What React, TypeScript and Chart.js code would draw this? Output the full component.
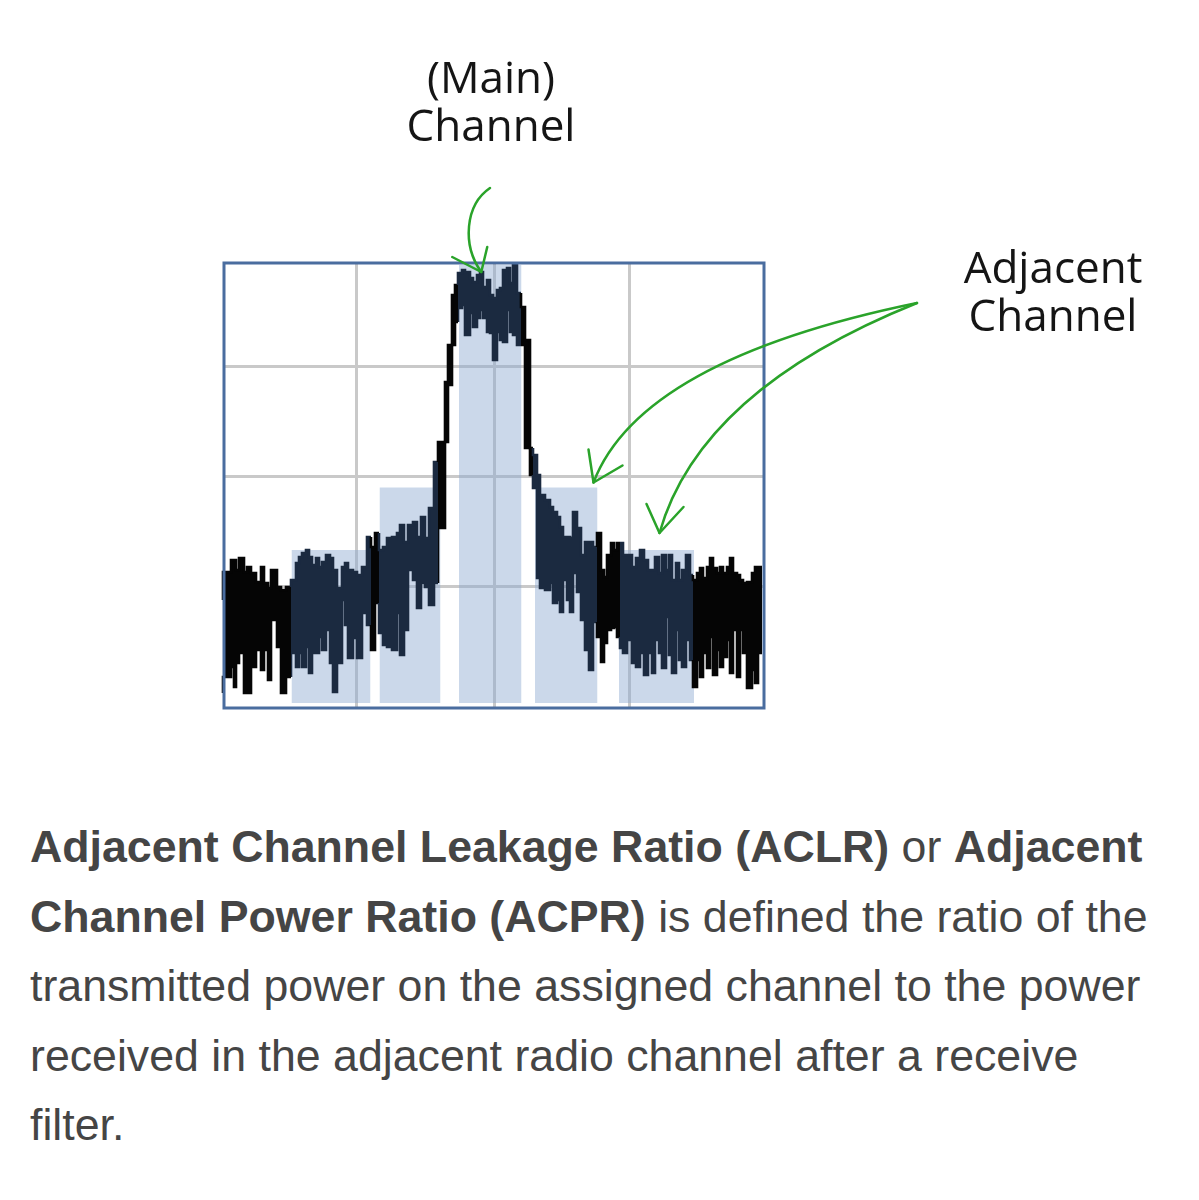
import React, { useEffect, useRef } from "react";
import { Chart, registerables } from "chart.js";

Chart.register(...registerables);

// Frequency offset from the carrier (arbitrary units) for each trace sample
const freqOffsets = [
  -55, -54.2, -52.6, -52, -51.6, -51, -50, -49.4, -48.6, -47.6, -46.6, -46, -45.2, -44.6, -43.4, -42.6, -41.6,
  -40.6, -39.6, -39, -38.4, -37.6, -37, -36.4, -35.6, -35, -34.4, -33.6, -32.8, -32.2, -31.4, -30.4, -29.8,
  -29.2, -28.2, -27.4, -26.4, -25.4, -24.6, -23.8, -23, -22.2, -21.4, -20.4, -19.4, -18.8, -18, -17.2, -16.2,
  -15.4, -14.6, -13.8, -13, -12, -11.2, -9.8, -9.2, -8.4, -7.8, -7.2, -6.4, -5.8, -4.8, -4.2, -3.4, -2.8,
  -2.2, -1.4, -0.8, -0.2, 0.6, 1.2, 1.8, 2.6, 3.2, 3.8, 4.6, 5.4, 6.2, 7.2, 7.8, 8.6, 9.2, 10.2, 11.2, 11.8,
  12.6, 13.2, 13.8, 14.6, 15.2, 15.8, 16.6, 17.4, 18.2, 19, 19.8, 20.6, 21.4, 22, 22.6, 23.4, 24, 24.6, 25.2,
  25.8, 26.6, 27.6, 28.4, 29.2, 30, 30.8, 31.6, 32.2, 33, 33.6, 34.4, 35, 35.6, 36.4, 37, 37.6, 38.4, 39.2,
  39.8, 40.6, 41.2, 41.8, 42.6, 43.2, 43.8, 44.6, 45.2, 45.8, 46.6, 47.2, 47.8, 48.6, 49.2, 49.8, 50.6, 51.6,
  52.2, 52.8, 53.6,
];

// Upper envelope of the noisy spectrum trace (dB, relative)
const traceUpper = [
  -64, -67.4, -61.8, -59.4, -59.4, -61.4, -59, -61.8, -60.8, -62, -63.8, -60.8, -64, -65, -61.4, -64.8, -65.4,
  -64.8, -63.4, -60, -58.8, -58, -57.4, -58.8, -60.4, -59, -60.8, -59.8, -58.4, -59, -61.4, -65, -60.8,
  -60, -61.4, -61.8, -62.4, -60.8, -54.8, -56.8, -54, -57.4, -56.8, -55, -54.8, -54, -52.4, -55.8, -52.4,
  -51.8, -54.8, -50.8, -55, -49, -39.8, -35.8, -23.8, -16.4, -6.4, -4.4, -2, -1.4, -1.8, -3, -3.8, -2.4,
  -1.8, -4.8, -3.4, -6.4, -7, -5.4, -5, -1.4, -1, -4, -0.4, -6, -8.8, -15.4, -37, -38.4, -42.4, -46.4, -47.4, -48.8,
  -49.8, -50.8, -52.8, -54.8, -54.8, -55, -49.8, -53, -58.4, -55.8, -55.8, -56.8, -54, -61.4, -62.8, -58.4, -56, -57.4, -56,
  -56, -58.4, -58.4, -60.8, -59, -57.4, -59.4, -61.4, -61.4, -58.8, -62, -58.4, -61.4, -58.4, -63.4, -60, -63.4, -61.4, -58.4,
  -62.4, -63.4, -62, -61, -63, -60.8, -59, -61, -62, -60.8, -62, -60.8, -59, -62, -62.4, -63.4, -64, -63.8,
  -62, -60.8, -60.8,
];

// Lower envelope of the noisy spectrum trace (dB, relative)
const traceLower = [
  -78.8, -86, -82.8, -80.8, -84.8, -80, -78, -86, -86, -80.8, -77.4, -81.4, -77.4, -83.4, -71.4, -76.8, -86,
  -82.8, -78, -80.8, -78, -80.8, -76.8, -82, -78, -78, -74.8, -77.4, -73.4, -80, -85.8, -80, -67.4,
  -72.4, -79, -75, -79, -70, -72.4, -77.4, -68, -74, -76.4, -76.8, -77.4, -70, -78.4, -73.4, -61.4,
  -63.4, -69, -64, -64.8, -68.4, -64, -53, -35.8, -24.4, -16.4, -11.8, -9, -8.4, -14.4, -10, -12.8, -11,
  -9.4, -11, -13.8, -14, -19.4, -13.8, -15.4, -15.8, -9.4, -13.8, -14.4, -16.4, -16.4, -37, -42.4, -45, -63, -65, -65.4, -64,
  -68, -67.4, -69.8, -63.4, -67.4, -69.8, -62, -65.8, -71.4, -77.4, -81.4, -71.8, -74.8, -79.8, -76, -73.4, -73, -72.8, -74.8,
  -77, -78, -75.4, -80, -80.8, -78, -82.4, -78, -82, -75.4, -78, -81, -70.8, -78.4, -82, -73.4, -79.4, -80.8, -75.4,
  -79.4, -84.8, -79.4, -82.8, -78, -81, -74.8, -82.4, -77.4, -80.8, -78.8, -75.4, -82, -73.4, -82.8, -73.4, -78, -85,
  -81.4, -84, -78,
];

// Measurement channels (shaded bands): lower alternate, lower adjacent, main, upper adjacent, upper alternate
const channelNames = ["Lower alternate", "Lower adjacent", "Main", "Upper adjacent", "Upper alternate"];
const channelStart = [-40.5, -22.9, -7, 8.2, 25];
const channelEnd = [-24.7, -10.7, 5.5, 20.7, 40];
const channelLevel = [-57.4, -44.9, -0.4, -44.9, -57.4];
const channelFloor = -88;

// Axis ranges and grid positions
const xRange = [-54, 54];
const yRange = [-89, 0];
const xGridTicks = [-27.5, 0, 27];
const yGridTicks = [-20.7, -42.7, -64.6];

const NAVY = "#1b2a40";
const BLACK = "#050505";
const BAND = "rgba(140,168,208,0.45)";
const GRID = "#c9c9c9";
const FRAME = "#4a6d9f";
const GREEN = "#2aa32a";

const inChannel = (x: number) => channelStart.some((s, i) => x >= s && x <= channelEnd[i]);

const decorPlugin = {
  id: "decor",
  afterDatasetsDraw(chart: any) {
    const { ctx, chartArea: a } = chart;
    ctx.save();
    ctx.strokeStyle = FRAME;
    ctx.lineWidth = 3;
    ctx.strokeRect(a.left, a.top, a.right - a.left, a.bottom - a.top);
    ctx.restore();
  },
  afterDraw(chart: any) {
    const { ctx } = chart;
    const xs = chart.scales.x;
    const ys = chart.scales.y;
    ctx.save();
    ctx.strokeStyle = GREEN;
    ctx.lineWidth = 2.5;
    ctx.lineCap = "round";
    ctx.lineJoin = "round";

    // Main channel arrow
    const mainTip = {
      x: xs.getPixelForValue((channelStart[2] + channelEnd[2]) / 2) - 9,
      y: ys.getPixelForValue(channelLevel[2]) + 7,
    };
    ctx.beginPath();
    ctx.moveTo(490, 188);
    ctx.bezierCurveTo(465, 205, 462, 245, mainTip.x, mainTip.y);
    ctx.stroke();
    ctx.beginPath();
    ctx.moveTo(mainTip.x - 29, mainTip.y - 15);
    ctx.lineTo(mainTip.x, mainTip.y);
    ctx.lineTo(mainTip.x + 6, mainTip.y - 25);
    ctx.stroke();

    // Adjacent channel arrows
    const adjTip = {
      x: xs.getPixelForValue(channelEnd[3]) - 4,
      y: ys.getPixelForValue(channelLevel[3]) - 5,
    };
    ctx.beginPath();
    ctx.moveTo(917, 303);
    ctx.quadraticCurveTo(640, 360, adjTip.x, adjTip.y);
    ctx.stroke();
    ctx.beginPath();
    ctx.moveTo(adjTip.x - 5, adjTip.y - 33);
    ctx.lineTo(adjTip.x, adjTip.y);
    ctx.lineTo(adjTip.x + 29, adjTip.y - 17);
    ctx.stroke();

    const altTip = {
      x: xs.getPixelForValue((channelStart[4] + channelEnd[4]) / 2) + 3,
      y: ys.getPixelForValue(channelLevel[4]) - 17,
    };
    ctx.beginPath();
    ctx.moveTo(917, 303);
    ctx.quadraticCurveTo(700, 390, altTip.x, altTip.y);
    ctx.stroke();
    ctx.beginPath();
    ctx.moveTo(altTip.x - 13, altTip.y - 29);
    ctx.lineTo(altTip.x, altTip.y);
    ctx.lineTo(altTip.x + 24, altTip.y - 26);
    ctx.stroke();
    ctx.restore();
  },
};

const CANVAS_W = 1199;
const CANVAS_H = 760;

export default function App() {
  const ref = useRef<HTMLCanvasElement | null>(null);

  useEffect(() => {
    if (!ref.current) return;
    const segColor = (c: any) => (inChannel((c.p0.parsed.x + c.p1.parsed.x) / 2) ? NAVY : BLACK);

    const channelSets = channelNames.map((name, i) => ({
      label: name,
      data: [
        { x: channelStart[i], y: channelFloor },
        { x: channelStart[i], y: channelLevel[i] },
        { x: channelEnd[i], y: channelLevel[i] },
        { x: channelEnd[i], y: channelFloor },
      ],
      borderColor: "transparent",
      borderWidth: 0,
      backgroundColor: BAND,
      fill: { value: channelFloor },
      pointRadius: 0,
      order: 5,
    }));

    const chart = new Chart(ref.current, {
      type: "line",
      data: {
        datasets: [
          {
            label: "Trace upper",
            data: freqOffsets.map((x, i) => ({ x, y: traceUpper[i] })),
            stepped: "after",
            borderColor: BLACK,
            backgroundColor: BLACK,
            borderWidth: 2.6,
            pointRadius: 0,
            fill: "+1",
            clip: false,
            order: 1,
            segment: { borderColor: segColor, backgroundColor: segColor },
          },
          {
            label: "Trace lower",
            data: freqOffsets.map((x, i) => ({ x, y: traceLower[i] })),
            stepped: "after",
            borderColor: BLACK,
            backgroundColor: BLACK,
            borderWidth: 2.6,
            pointRadius: 0,
            fill: false,
            clip: false,
            order: 2,
            segment: { borderColor: segColor, backgroundColor: segColor },
          },
          ...channelSets,
        ] as any,
      },
      options: {
        responsive: false,
        animation: false,
        devicePixelRatio: 1,
        events: [],
        layout: { padding: { left: 224, top: 263, right: CANVAS_W - 764, bottom: CANVAS_H - 708 } },
        plugins: { legend: { display: false }, tooltip: { enabled: false } },
        scales: {
          x: {
            type: "linear",
            min: xRange[0],
            max: xRange[1],
            ticks: { display: false },
            grid: { color: GRID, lineWidth: 3, drawTicks: false },
            border: { display: false },
            afterBuildTicks: (s: any) => {
              s.ticks = xGridTicks.map((v) => ({ value: v }));
            },
          },
          y: {
            type: "linear",
            min: yRange[0],
            max: yRange[1],
            ticks: { display: false },
            grid: { color: GRID, lineWidth: 3, drawTicks: false },
            border: { display: false },
            afterBuildTicks: (s: any) => {
              s.ticks = yGridTicks.map((v) => ({ value: v }));
            },
          },
        },
      } as any,
      plugins: [decorPlugin],
    });
    return () => chart.destroy();
  }, []);

  const labelStyle: React.CSSProperties = {
    position: "absolute",
    width: 300,
    textAlign: "center",
    fontFamily: '"Open Sans", "Noto Sans", sans-serif',
    fontSize: 44,
    lineHeight: "48px",
    color: "#151515",
    whiteSpace: "nowrap",
  };

  const para: React.CSSProperties = {
    position: "absolute",
    left: 30,
    top: 812,
    fontFamily: '"Liberation Sans", Arial, sans-serif',
    fontSize: 44.7,
    lineHeight: "69.5px",
    color: "#454545",
    whiteSpace: "nowrap",
  };

  return (
    <div style={{ position: "absolute", left: 0, top: 0, width: 1199, height: 1200, background: "#fff", overflow: "hidden" }}>
      <canvas ref={ref} width={CANVAS_W} height={CANVAS_H} style={{ position: "absolute", left: 0, top: 0, display: "block" }} />
      <div style={{ ...labelStyle, left: 491 - 150, top: 52 }}>
        (Main)
        <br />
        Channel
      </div>
      <div style={{ ...labelStyle, left: 1053 - 150, top: 242 }}>
        Adjacent
        <br />
        Channel
      </div>
      <div style={para}>
        <b>Adjacent Channel Leakage Ratio (ACLR)</b> or <b>Adjacent</b>
        <br />
        <b>Channel Power Ratio (ACPR)</b> is defined the ratio of the
        <br />
        transmitted power on the assigned channel to the power
        <br />
        received in the adjacent radio channel after a receive
        <br />
        filter.
      </div>
    </div>
  );
}
